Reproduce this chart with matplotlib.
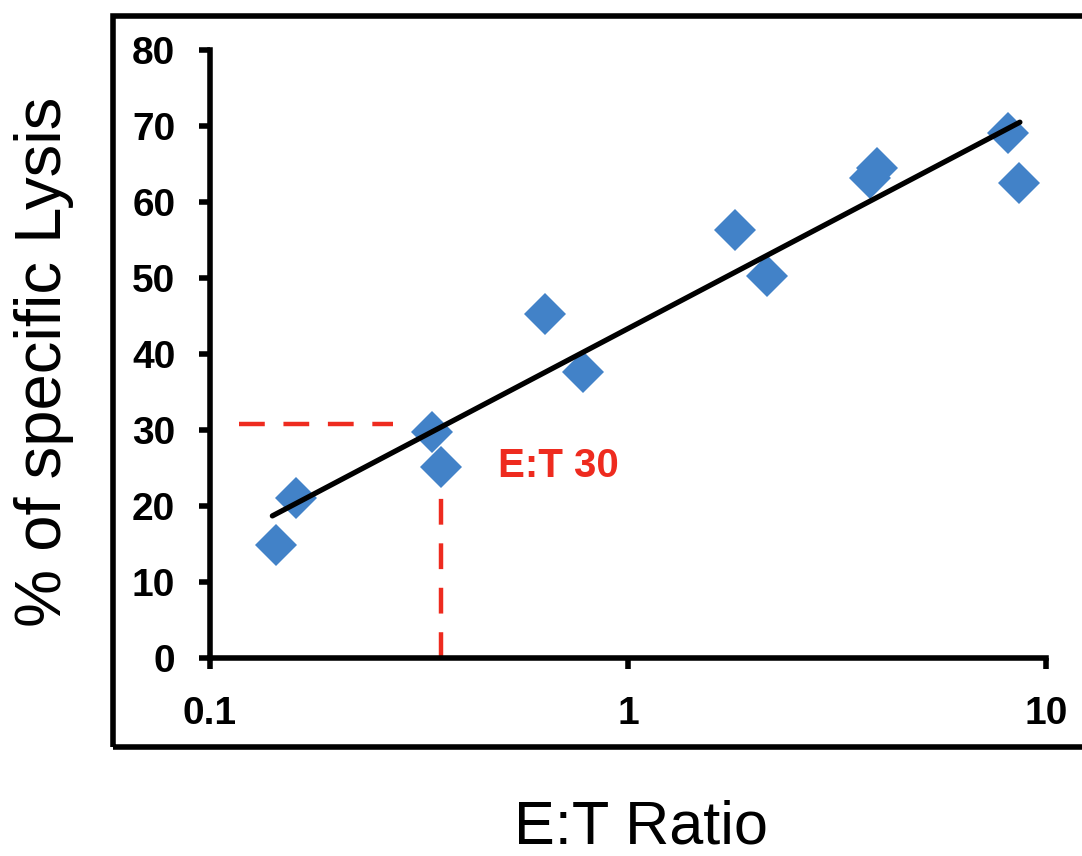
#!/usr/bin/env python3
"""E:T ratio vs % specific lysis, log x with fitted trend line."""

import matplotlib
matplotlib.use('Agg')
import matplotlib.pyplot as plt
from matplotlib.patches import Rectangle
from matplotlib.ticker import FixedLocator, FixedFormatter

plt.rcParams['font.family'] = ['Liberation Sans', 'DejaVu Sans']

# data
et_ratio = [0.144, 0.161, 0.340, 0.357, 0.632, 0.780, 1.80, 2.15, 3.79, 3.95, 8.11, 8.61]
lysis = [14.9, 21.0, 29.7, 25.1, 45.3, 37.6, 56.3, 50.3, 63.2, 64.5, 69.1, 62.5]

# trend line end points (log-linear fit as drawn)
trend_x = [0.141, 8.66]
trend_y = [18.7, 70.5]

# red guide lines marking E:T for 30% lysis
guide_h_x = [0.117, 0.274]
guide_h_y = [30.8, 30.8]
guide_v_x = [0.357, 0.357]
guide_v_y = [0, 21.8]
guide_label = "E:T 30"

x_ticks = [0.1, 1, 10]
x_tick_labels = ["0.1", "1", "10"]
y_ticks = [0, 10, 20, 30, 40, 50, 60, 70, 80]

BLUE = '#4282c8'
RED = '#ee2b1f'
W, H = 1082, 856

fig = plt.figure(figsize=(W / 100, H / 100), dpi=100)
ax = fig.add_axes([210 / W, 1 - 658 / H, (1046 - 210) / W, (658 - 50) / H])

ax.set_xscale('log')
ax.set_xlim(0.1, 10)
ax.set_ylim(0, 80)

ax.plot(guide_h_x, guide_h_y, color=RED, lw=3.2, dashes=(5.8, 4.2), zorder=2)
ax.plot(guide_v_x, guide_v_y, color=RED, lw=3.2, dashes=(5.8, 4.2), zorder=2)

ax.plot(et_ratio, lysis, linestyle='none', marker='D', ms=21, color=BLUE,
        markeredgewidth=0, zorder=3)
ax.plot(trend_x, trend_y, color='black', lw=3.8, solid_capstyle='round', zorder=4)

ax.text(0.489, 23.8, guide_label, color=RED, fontsize=29, fontweight='bold',
        ha='left', va='baseline', zorder=5)

ax.xaxis.set_major_locator(FixedLocator(x_ticks))
ax.xaxis.set_major_formatter(FixedFormatter(x_tick_labels))
ax.xaxis.set_minor_locator(FixedLocator([]))
ax.set_yticks(y_ticks)

for s in ('top', 'right'):
    ax.spines[s].set_visible(False)
for s in ('left', 'bottom'):
    ax.spines[s].set_linewidth(4)

ax.tick_params(axis='both', which='major', direction='out', length=8, width=4,
               labelsize=28)
ax.tick_params(axis='y', pad=17)
ax.tick_params(axis='x', pad=19)
for lbl in ax.get_xticklabels() + ax.get_yticklabels():
    lbl.set_fontweight('bold')

# outer frame box (runs off the right edge like the source)
fig.patches.append(Rectangle((113 / W, 1 - 747 / H), 1.2, (747 - 16) / H,
                             transform=fig.transFigure, fill=False,
                             edgecolor='black', lw=4, clip_on=False))

fig.text(641 / W, 1 - 843 / H, "E:T Ratio", fontsize=44, ha='center', va='baseline')
fig.text(44 / W, 1 - 362 / H, "% of specific Lysis", fontsize=47, rotation=90,
         ha='center', va='center')

fig.savefig('out.png', dpi=100, facecolor='white')
